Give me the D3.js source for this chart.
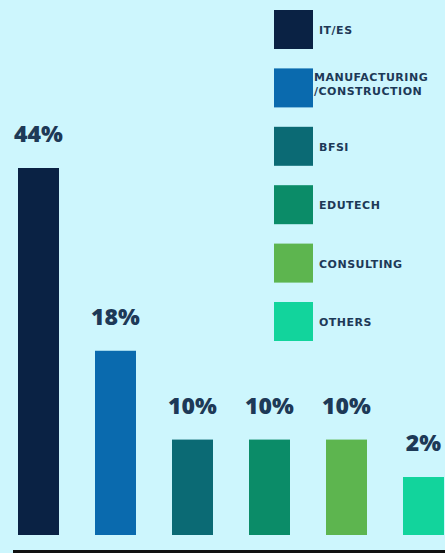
<!DOCTYPE html>
<html>
<head>
<meta charset="utf-8">
<script src="https://cdn.jsdelivr.net/npm/d3@7"></script>
<style>
  body { margin: 0; background: #cdf6fd; }
  svg { display: block; }
</style>
</head>
<body>
<div id="chart"></div>
<script>
var sectors = ["IT/ES", "MANUFACTURING/CONSTRUCTION", "BFSI", "EDUTECH", "CONSULTING", "OTHERS"];
var shares = [44, 18, 10, 10, 10, 2];
var colors = ["#0a2244", "#0a6aae", "#0b6a74", "#0b8c68", "#5db54f", "#12d49c"];
// legend text, one array of lines per sector
var legendLines = [["IT/ES"], ["MANUFACTURING", "/CONSTRUCTION"], ["BFSI"], ["EDUTECH"], ["CONSULTING"], ["OTHERS"]];

var width = 445,
    height = 553;
var baseY = 535, plotH = 367;
var ink = "#1d3957";

var svg = d3.select("#chart")
    .append("svg")
    .attr("width", width)
    .attr("height", height);

svg.append("rect")
    .attr("width", width)
    .attr("height", height)
    .style("fill", "#cdf6fd");

var x = d3.scaleBand()
    .domain(sectors)
    .range([18, 444])
    .paddingInner(0.4675)
    .paddingOuter(0);

// the infographic is not drawn to scale, so the scale bends at each value
var y = d3.scaleLinear()
    .domain([0, 2, 10, 18, 44])
    .range([0, 0.158, 0.26, 0.502, 1].map(function(f) { return baseY - f * plotH; }));

svg.selectAll(".bar")
    .data(sectors)
  .enter().append("rect")
    .attr("class", "bar")
    .attr("x", function(d) { return x(d); })
    .attr("y", function(d, i) { return y(shares[i]); })
    .attr("width", x.bandwidth())
    .attr("height", function(d, i) { return baseY - y(shares[i]); })
    .style("fill", function(d, i) { return colors[i]; });

svg.selectAll(".val")
    .data(sectors)
  .enter().append("text")
    .attr("class", "val")
    .attr("x", function(d) { return x(d) + x.bandwidth() / 2; })
    .attr("y", function(d, i) { return y(shares[i]) - 26; })
    .attr("text-anchor", "middle")
    .style("font-family", "'Open Sans', sans-serif")
    .style("font-weight", 800)
    .style("font-size", "23px")
    .style("fill", ink)
    .text(function(d, i) { return shares[i] + "%"; });

svg.append("line")
    .attr("x1", 13)
    .attr("x2", width)
    .attr("y1", 551.5)
    .attr("y2", 551.5)
    .style("stroke", "#111")
    .style("stroke-width", 3);

// legend
var ly = d3.scalePoint()
    .domain(sectors)
    .range([10, 302]);

var item = svg.selectAll(".legend")
    .data(sectors)
  .enter().append("g")
    .attr("class", "legend")
    .attr("transform", function(d) { return "translate(274," + ly(d) + ")"; });

item.append("rect")
    .attr("width", 39)
    .attr("height", 39)
    .style("fill", function(d, i) { return colors[i]; });

item.append("text")
    .attr("y", function(d, i) { return legendLines[i].length > 1 ? 13 : 24; })
    .style("font-family", "'DejaVu Sans', sans-serif")
    .style("font-weight", "bold")
    .style("font-size", "11px")
    .style("letter-spacing", "0.5px")
    .style("fill", ink)
    .each(function(d, i) {
      var t = d3.select(this);
      legendLines[i].forEach(function(line, j) {
        t.append("tspan")
          .attr("x", legendLines[i].length > 1 ? 40 : 45)
          .attr("dy", j ? 14 : 0)
          .text(line);
      });
    });
</script>
</body>
</html>
